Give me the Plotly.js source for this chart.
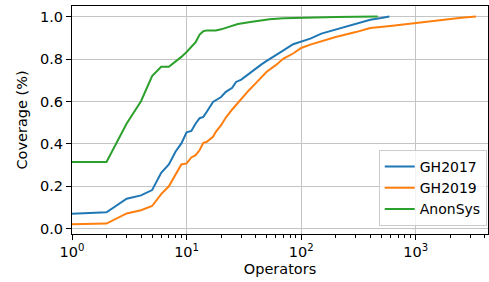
<!DOCTYPE html>
<html>
<head>
<meta charset="utf-8">
<script src="https://cdn.plot.ly/plotly-3.0.1.min.js"></script>
<style>html,body{margin:0;padding:0;background:#fff;}#chart{width:489px;height:282px;}</style>
</head>
<body>
<div id="chart"></div>
<script>
// GH2017
const gh2017X = [1,2,3,4,5,6,7,8,9,10,11,12,13,14,15,17,20,22,25,27,30,35,40,45,50,60,70,85,100,120,150,200,250,300,400,500,588];
const gh2017Y = [0.071,0.077,0.141,0.157,0.182,0.264,0.303,0.363,0.402,0.454,0.461,0.496,0.521,0.527,0.551,0.598,0.621,0.645,0.664,0.692,0.703,0.732,0.755,0.775,0.791,0.82,0.841,0.87,0.884,0.896,0.92,0.94,0.955,0.967,0.985,0.993,1.0];
// GH2019
const gh2019X = [1,2,3,4,5,6,7,8,9,10,11,12,13,14,15,17,18,20,22,25,30,35,40,50,60,70,85,100,120,150,200,300,400,600,1000,1600,2500,3350];
const gh2019Y = [0.021,0.024,0.072,0.087,0.107,0.163,0.2,0.253,0.303,0.308,0.336,0.347,0.371,0.405,0.41,0.433,0.457,0.488,0.524,0.562,0.614,0.653,0.685,0.74,0.771,0.802,0.826,0.852,0.868,0.884,0.904,0.927,0.946,0.956,0.971,0.985,0.995,1.0];
// AnonSys
const anonX = [1,2,3,4,5,6,7,8,9,10,12,13,14,15,18,20,23,28,36,53,70,100,200,465];
const anonY = [0.315,0.315,0.496,0.601,0.72,0.763,0.763,0.786,0.81,0.833,0.88,0.915,0.931,0.935,0.935,0.94,0.95,0.965,0.975,0.987,0.992,0.995,0.998,1.0];

const seriesNames = ['GH2017','GH2019','AnonSys'];
const colors = ['#1f77b4','#ff7f0e','#2ca02c'];

const xTickVals = [1,10,100,1000];
const xTickText = ['10<sup>0</sup>','10<sup>1</sup>','10<sup>2</sup>','10<sup>3</sup>'];
const yTickVals = [0,0.2,0.4,0.6,0.8,1.0];

const minorVals = [];
[1,10,100,1000].forEach(d => { for (let k=2;k<=9;k++) minorVals.push(d*k); });

const xs = [gh2017X, gh2019X, anonX];
const ys = [gh2017Y, gh2019Y, anonY];
const traces = seriesNames.map((n,i) => ({
  x: xs[i], y: ys[i], name: n, type: 'scatter', mode: 'lines',
  line: {color: colors[i], width: 2}
}));

const font = {family: 'DejaVu Sans', size: 14.5, color: '#000'};
const layout = {
  width: 489, height: 282,
  margin: {l: 72, r: 1, t: 6, b: 48, pad: 0},
  paper_bgcolor: '#fff', plot_bgcolor: '#fff',
  font: font,
  showlegend: true,
  legend: {
    x: 0.997, y: 0.035, xanchor: 'right', yanchor: 'bottom',
    bgcolor: 'rgba(255,255,255,0.8)', bordercolor: '#cccccc', borderwidth: 1,
    font: {family: 'DejaVu Sans', size: 14, color: '#000'},
    itemwidth: 30, tracegroupgap: 0
  },
  xaxis: {
    type: 'log', range: [0, 3.63],
    tickmode: 'array', tickvals: xTickVals, ticktext: xTickText,
    ticks: 'outside', ticklen: 5, tickwidth: 1, tickcolor: '#000',
    showgrid: true, gridcolor: '#c4c4c4', gridwidth: 1,
    showline: true, linecolor: '#000', linewidth: 1, mirror: true,
    zeroline: false,
    minor: {tickmode: 'array', tickvals: minorVals, ticks: 'outside', ticklen: 3, tickcolor: '#000', showgrid: false},
    title: {text: 'Operators', font: {family: 'DejaVu Sans', size: 14.5, color: '#000'}, standoff: 4},
    automargin: false
  },
  yaxis: {
    range: [-0.025, 1.05],
    tickmode: 'array', tickvals: yTickVals, tickformat: '.1f',
    ticks: 'outside', ticklen: 5, tickwidth: 1, tickcolor: '#000',
    showgrid: true, gridcolor: '#c4c4c4', gridwidth: 1,
    showline: true, linecolor: '#000', linewidth: 1, mirror: true,
    zeroline: false,
    title: {text: 'Coverage (%)', font: {family: 'DejaVu Sans', size: 14.5, color: '#000'}, standoff: 8},
    automargin: false
  }
};

Plotly.newPlot('chart', traces, layout, {staticPlot: true, displayModeBar: false});
</script>
</body>
</html>
